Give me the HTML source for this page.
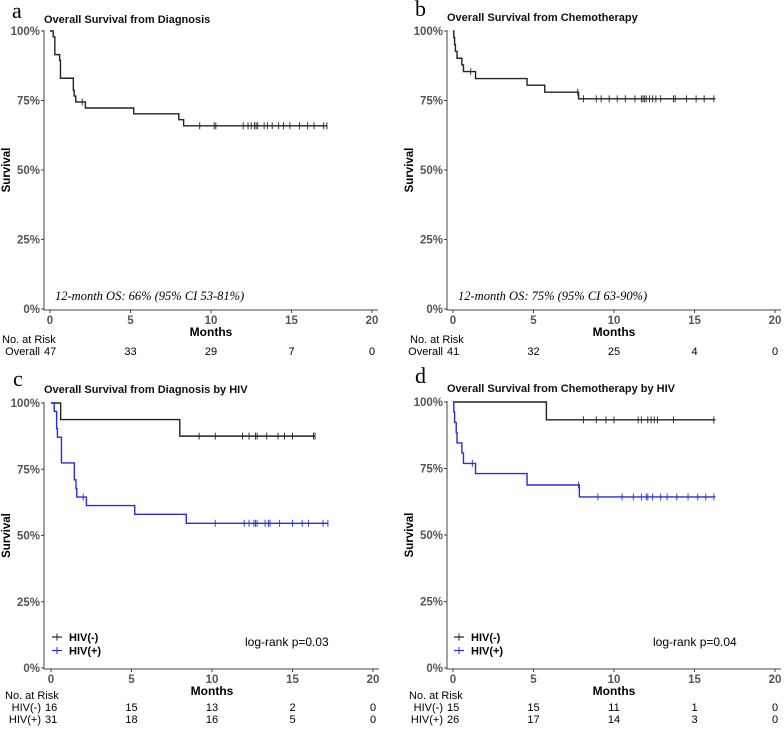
<!DOCTYPE html>
<html><head><meta charset="utf-8"><style>
html,body{margin:0;padding:0;background:#fff;}
svg text{font-family:"Liberation Sans",sans-serif;}
</style></head><body>
<svg id="fig" width="784" height="729" viewBox="0 0 784 729" xmlns="http://www.w3.org/2000/svg"></svg>
<script>
// Panel a: overall survival from diagnosis
const aTimes=[0,0.2,0.3,0.6,0.65,1.45,1.5,1.6,2.2,5.2,8.0,8.3,17.2];
const aSurv=[100,97.9,91.5,89.4,83.0,78.7,76.6,74.5,72.3,70.2,68.1,65.9,65.9];
const aCens=[2.0,9.3,10.2,10.3,12.0,12.3,12.5,12.7,12.8,12.9,13.3,13.5,13.8,14.2,14.5,14.9,15.5,16.0,16.4,17.0,17.2];
// Panel b: overall survival from chemotherapy
const bTimes=[0,0.05,0.1,0.15,0.25,0.55,0.65,1.4,4.6,5.7,7.8,16.3];
const bSurv=[100,97.6,95.1,92.7,90.2,87.8,85.4,82.9,80.5,78.0,75.6,75.6];
const bCens=[1.1,7.75,8.1,8.9,9.2,9.7,10.2,10.7,11.3,11.7,11.8,11.9,12.0,12.2,12.4,12.6,12.9,13.7,13.8,14.5,15.1,15.6,16.2];
// Panel c: by HIV from diagnosis
const cNegTimes=[0,0.6,8.0,16.4];
const cNegSurv=[100,93.75,87.5,87.5];
const cNegCens=[9.2,10.2,11.9,12.3,12.7,12.8,13.4,14.1,14.5,15.0,16.3,16.4];
const cPosTimes=[0,0.2,0.35,0.4,0.65,1.45,1.55,1.6,2.2,5.2,8.4,17.2];
const cPosSurv=[100,96.8,90.3,87.1,77.4,71.0,67.7,64.5,61.3,58.0,54.6,54.6];
const cPosCens=[2.0,10.2,12.0,12.3,12.6,12.7,12.8,13.3,13.5,13.6,14.2,15.0,15.6,16.0,16.9,17.2];
// Panel d: by HIV from chemotherapy
const dNegTimes=[0,5.8,16.3];
const dNegSurv=[100,93.3,93.3];
const dNegCens=[8.1,8.9,9.5,10.0,11.5,11.7,12.1,12.3,12.5,12.7,13.7,16.2];
const dPosTimes=[0,0.05,0.1,0.2,0.25,0.55,0.65,1.4,4.6,7.85,16.3];
const dPosSurv=[100,96.2,92.3,88.5,84.6,80.8,76.9,73.1,68.8,64.3,64.3];
const dPosCens=[1.2,7.8,9.0,10.5,11.2,11.7,12.0,12.1,12.4,12.9,13.3,13.9,14.6,15.2,15.7,16.2];
// Axis ticks and risk tables
const xTicks=[0,5,10,15,20];
const yTicks=[0,25,50,75,100];
const aRisk=[47,33,29,7,0];
const bRisk=[41,32,25,4,0];
const cRiskNeg=[16,15,13,2,0];
const cRiskPos=[31,18,16,5,0];
const dRiskNeg=[15,15,11,1,0];
const dRiskPos=[26,17,14,3,0];

const NS="http://www.w3.org/2000/svg";
const svg=document.getElementById('fig');
function mk(tag,attrs,parent,txt){const e=document.createElementNS(NS,tag);for(const k in attrs)e.setAttribute(k,attrs[k]);if(txt!==undefined)e.textContent=txt;(parent||svg).appendChild(e);return e;}

function panel(p){
  const g=mk('g',{});
  
  
  const X=t=>p.x0+(p.x20-p.x0)*t/20;
  const Y=s=>p.y0+(p.y100-p.y0)*s/100;
  const l=mk('text',{x:p.lx,y:p.ly,'font-size':22,style:'font-family:"Liberation Serif",serif'},g,p.id);
  
  
  const t=mk('text',{x:p.ax,y:p.ty,'font-size':11,'font-weight':'bold',fill:'#111'},g,p.title);
  
  
  const ax=mk('path',{d:`M${p.ax} ${p.y100-1} V${p.y0+1} H${p.x20+6}`,stroke:'#444',fill:'none','stroke-width':1},g);
  
  
  yTicks.forEach(v=>{
    mk('line',{x1:p.ax-3,x2:p.ax,y1:Y(v),y2:Y(v),stroke:'#444'},g);
    const tl=mk('text',{x:p.ax-4,y:Y(v)+4,'font-size':11.5,'font-weight':'bold',fill:'#555','text-anchor':'end'},g,v+'%');
    
    
  });
  xTicks.forEach(v=>{
    mk('line',{x1:X(v),x2:X(v),y1:p.y0+1,y2:p.y0+4,stroke:'#444'},g);
    const tl=mk('text',{x:X(v),y:p.y0+15,'font-size':11.5,'font-weight':'bold',fill:'#555','text-anchor':'middle'},g,String(v));
    
    
  });
  const yt=mk('text',{x:0,y:0,'font-size':11.5,'font-weight':'bold','text-anchor':'middle',transform:`translate(${p.ax-34},${(p.y0+p.y100)/2}) rotate(-90)`},g,'Survival');
  
  
  const xt=mk('text',{x:X(10),y:p.y0+27,'font-size':12,'font-weight':'bold','text-anchor':'middle'},g,'Months');
  
  
  p.series.forEach(s=>{
    let d=`M${X(s.t[0])} ${Y(s.s[0])}`;
    for(let i=1;i<s.t.length;i++){d+=` H${X(s.t[i])} V${Y(s.s[i])}`;}
    const c=mk('path',{d,stroke:s.col,fill:'none','stroke-width':1.4},g);
    
    
    s.c.forEach(ct=>{
      let sv=s.s[0];for(let i=0;i<s.t.length;i++){if(s.t[i]<=ct)sv=s.s[i];}
      const m=mk('line',{x1:X(ct),x2:X(ct),y1:Y(sv)-3.5,y2:Y(sv)+3.5,stroke:s.col,'stroke-width':0.9},g);
      
      
    });
  });
  if(p.note){
    const n=mk('text',{x:X(0)+5,y:p.y0-9,'font-size':12.5,'font-style':'italic',style:'font-family:"Liberation Serif",serif'},g,p.note);
    
    
  }
  if(p.legend){
    p.series.forEach((s,i)=>{
      const ly=p.legY+i*13.5;
      mk('line',{x1:X(0)+1,x2:X(0)+11,y1:ly,y2:ly,stroke:s.col,'stroke-width':1.2},g);
      mk('line',{x1:X(0)+6,x2:X(0)+6,y1:ly-3.5,y2:ly+3.5,stroke:s.col,'stroke-width':1},g);
      const lt=mk('text',{x:X(0)+18,y:ly+4,'font-size':11,'font-weight':'bold'},g,s.label);
      
      
    });
    const lr=mk('text',{x:p.lrX,y:p.legY+9,'font-size':12},g,p.logrank);
    
    
  }
  const rh=mk('text',{x:p.rtX,y:p.rtY,'font-size':11},g,'No. at Risk');
  
  
  p.risk.forEach((r,ri)=>{
    const ry=p.rtY+12+ri*12;
    const lab=mk('text',{x:X(0)-10,y:ry,'font-size':11,'text-anchor':'end'},g,r.label);
    
    
    r.vals.forEach((v,i)=>{
      const tx=mk('text',{x:i===0?X(0)-6:X(xTicks[i]),y:ry,'font-size':11,'text-anchor':i===0?'start':'middle'},g,String(v));
      
      
    });
  });
}

panel({id:'a',title:'Overall Survival from Diagnosis',x0:50,x20:372,y100:31,y0:309,ax:44,lx:12,ly:18,ty:23,
  note:'12-month OS: 66% (95% CI 53-81%)',rtX:2,rtY:343,
  series:[{name:'overall',t:aTimes,s:aSurv,c:aCens,col:'#222'}],
  risk:[{label:'Overall',vals:aRisk}]});
panel({id:'b',title:'Overall Survival from Chemotherapy',x0:453,x20:775,y100:31,y0:309,ax:447,lx:415,ly:16,ty:21,
  note:'12-month OS: 75% (95% CI 63-90%)',rtX:410,rtY:343,
  series:[{name:'overall',t:bTimes,s:bSurv,c:bCens,col:'#222'}],
  risk:[{label:'Overall',vals:bRisk}]});
panel({id:'c',title:'Overall Survival from Diagnosis by HIV',x0:51,x20:373,y100:403,y0:668,ax:44,lx:13,ly:386,ty:393,
  legend:true,legY:637,lrX:245,logrank:'log-rank p=0.03',rtX:5,rtY:699,
  series:[{name:'hiv-neg',label:'HIV(-)',t:cNegTimes,s:cNegSurv,c:cNegCens,col:'#222'},
          {name:'hiv-pos',label:'HIV(+)',t:cPosTimes,s:cPosSurv,c:cPosCens,col:'#2a2ae6'}],
  risk:[{label:'HIV(-)',vals:cRiskNeg},{label:'HIV(+)',vals:cRiskPos}]});
panel({id:'d',title:'Overall Survival from Chemotherapy by HIV',x0:453,x20:775,y100:402,y0:668,ax:447,lx:415,ly:383,ty:392,
  legend:true,legY:637,lrX:653,logrank:'log-rank p=0.04',rtX:409,rtY:699,
  series:[{name:'hiv-neg',label:'HIV(-)',t:dNegTimes,s:dNegSurv,c:dNegCens,col:'#222'},
          {name:'hiv-pos',label:'HIV(+)',t:dPosTimes,s:dPosSurv,c:dPosCens,col:'#2a2ae6'}],
  risk:[{label:'HIV(-)',vals:dRiskNeg},{label:'HIV(+)',vals:dRiskPos}]});
</script>
</body></html>
